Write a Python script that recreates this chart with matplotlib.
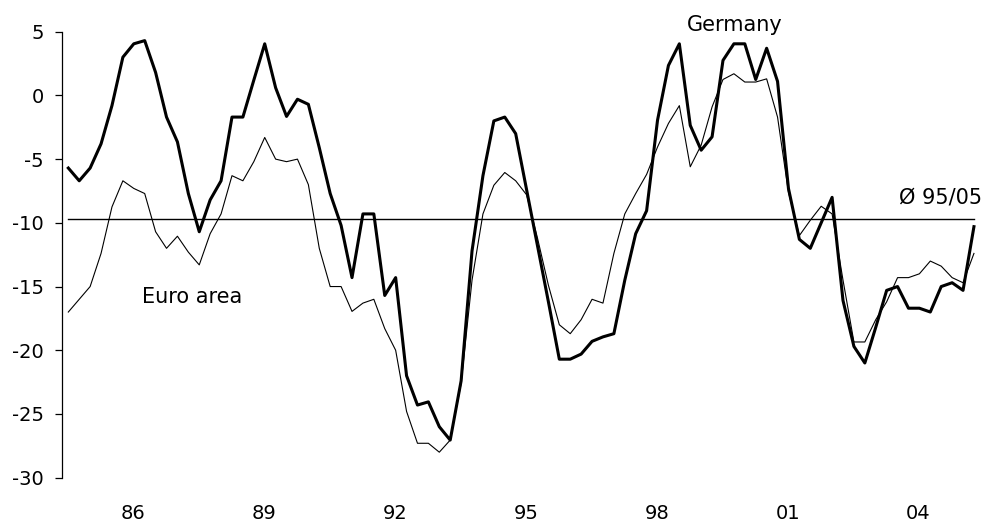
import matplotlib
matplotlib.use("Agg")
import matplotlib.pyplot as plt
import numpy as np

# quarterly values, 1985 Q1 - 2005 Q4
germany = [-5.7, -6.7, -5.7, -3.8, -0.8, 3.0, 4.05, 4.3, 1.8, -1.7,
           -3.65, -7.7, -10.7, -8.2, -6.7, -1.7, -1.7, 1.2, 4.05, 0.6,
           -1.65, -0.3, -0.7, -4.1, -7.7, -10.2, -14.3, -9.3, -9.3, -15.7,
           -14.3, -22.0, -24.3, -24.05, -26.0, -27.05, -22.4, -12.2, -6.3, -2.0,
           -1.7, -3.0, -7.4, -11.8, -16.2, -20.7, -20.7, -20.3, -19.3, -18.95,
           -18.7, -14.5, -10.85, -9.05, -1.95, 2.35, 4.05, -2.35, -4.3, -3.25,
           2.75, 4.05, 4.05, 1.25, 3.7, 1.1, -7.3, -11.3, -12.0, -10.0,
           -8.0, -16.1, -19.7, -21.0, -18.2, -15.3, -15.0, -16.7, -16.7, -17.0,
           -15.0, -14.7, -15.3, -10.3]
euro_area = [-17.0, -16.0, -15.0, -12.4, -8.75, -6.7, -7.3, -7.7, -10.7, -12.0,
             -11.05, -12.3, -13.3, -10.85, -9.3, -6.3, -6.7, -5.2, -3.3, -5.0,
             -5.2, -5.0, -7.0, -12.0, -15.0, -15.0, -16.95, -16.3, -16.0, -18.3,
             -20.0, -24.8, -27.3, -27.3, -28.0, -27.05, -22.6, -14.5, -9.3, -7.05,
             -6.05, -6.7, -7.8, -11.2, -14.9, -18.0, -18.7, -17.6, -16.0, -16.3,
             -12.4, -9.3, -7.7, -6.2, -4.05, -2.2, -0.8, -5.6, -3.9, -0.9,
             1.25, 1.7, 1.05, 1.05, 1.3, -1.7, -7.6, -11.0, -9.8, -8.7,
             -9.3, -14.5, -19.35, -19.35, -17.6, -16.2, -14.3, -14.3, -14.0, -13.0,
             -13.4, -14.3, -14.7, -12.4]
avg_95_05 = -9.7
tick_years = [1986, 1989, 1992, 1995, 1998, 2001, 2004]
tick_labels = ["86", "89", "92", "95", "98", "01", "04"]

plt.rcParams["axes.unicode_minus"] = False

x = 1985 + np.arange(len(germany)) / 4

fig = plt.figure(figsize=(9.84, 5.24), dpi=100)
ax = fig.add_axes([0.063, 0.0884, 0.929, 0.8511])

ax.plot(x, euro_area, color="black", lw=0.8)
ax.plot(x, germany, color="black", lw=2.2)
ax.plot([x[0], x[-1]], [avg_95_05, avg_95_05], color="black", lw=1.0)

ax.set_xlim(1984.855, 2005.8)
ax.set_ylim(-30, 5)
ax.set_yticks(range(-30, 6, 5))
ax.set_xticks([y + 0.48 for y in tick_years])
ax.set_xticklabels(tick_labels)

for s in ["top", "right", "bottom"]:
    ax.spines[s].set_visible(False)
ax.spines["left"].set_linewidth(0.9)
ax.tick_params(axis="y", length=5, width=0.9, pad=8, labelsize=14)
ax.tick_params(axis="x", length=0, pad=19, labelsize=14)

ax.text(2000.28, 5.5, "Germany", fontsize=15, ha="center", va="center", clip_on=False)
ax.text(1987.83, -15.84, "Euro area", fontsize=15, ha="center", va="center")
ax.text(2005.94, -8.0, "Ø 95/05", fontsize=15, ha="right", va="center", clip_on=False)

fig.savefig("out.png", dpi=100)
